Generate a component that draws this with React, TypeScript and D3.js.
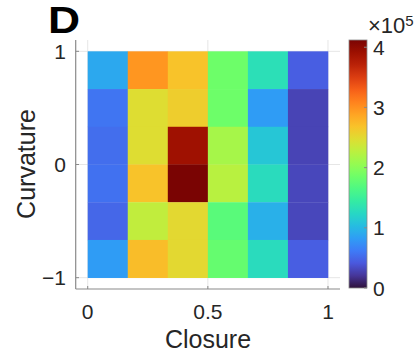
import React from "react";
import * as d3 from "d3";

// Closure (x, columns) and Curvature (y, rows) bins; values in units of 1e5
const closureTicks = [0, 0.5, 1];
const curvatureTicks = [-1, 0, 1];
const colorbarTicks = [0, 1, 2, 3, 4];
const nClosureBins = 6;
const nCurvatureBins = 6;
// rows from top (curvature = 1) to bottom (curvature = -1)
const values: number[][] = [
  [0.9, 2.97, 2.68, 1.85, 1.32, 0.45],
  [0.58, 2.47, 2.6, 1.85, 0.82, 0.29],
  [0.54, 2.47, 3.9, 2.15, 1.11, 0.29],
  [0.56, 2.68, 4.12, 2.25, 1.28, 0.31],
  [0.5, 2.3, 2.51, 1.72, 0.95, 0.31],
  [0.82, 2.72, 2.51, 1.8, 1.28, 0.45],
];
const colorMax = 4.12;

// turbo colormap with MATLAB-like end points
const turboStops: string[] = d3.range(0, 21).map((i) => {
  if (i === 0) return "#30123b";
  if (i === 20) return "#7a0403";
  return d3.interpolateTurbo(i / 20);
});
const turbo = d3.piecewise(d3.interpolateRgb, turboStops);

const W = 419;
const H = 360;
const FONT = "'Liberation Sans', Arial, Helvetica, sans-serif";
const TEXT = "#262626";

export default function App() {
  const x = d3.scaleLinear().domain([-0.05, 1.05]).range([75.7, 340]);
  const y = d3.scaleLinear().domain([-1.1, 1.1]).range([289, 40]);
  const color = d3.scaleSequential(turbo).domain([0, colorMax]);
  const cb = d3.scaleLinear().domain([0, colorMax]).range([288, 40]);
  const cbX0 = 349;
  const cbX1 = 367;

  const cells: React.ReactNode[] = [];
  values.forEach((row, r) => {
    row.forEach((v, c) => {
      const x0 = x(c / nClosureBins);
      const x1 = x((c + 1) / nClosureBins);
      const yTop = 1 - (2 * r) / nCurvatureBins;
      const yBot = 1 - (2 * (r + 1)) / nCurvatureBins;
      cells.push(
        <rect
          key={`c${r}-${c}`}
          x={x0}
          y={y(yTop)}
          width={x1 - x0 + 0.3}
          height={y(yBot) - y(yTop) + 0.3}
          fill={color(v)}
        />
      );
    });
  });

  const gradStops = d3.range(0, 41).map((i) => i / 40);

  return (
    <svg
      width={W}
      height={H}
      style={{ position: "absolute", left: 0, top: 0, background: "#fff" }}
      fontFamily={FONT}
    >
      <defs>
        <linearGradient id="cbgrad" x1="0" y1="1" x2="0" y2="0">
          {gradStops.map((t) => (
            <stop key={t} offset={`${t * 100}%`} stopColor={turbo(t)} />
          ))}
        </linearGradient>
      </defs>
      {/* panel letter */}
      <text
        transform="translate(48,33) scale(1.2,1)"
        fontSize={37}
        fontWeight="bold"
        fill="#000"
      >
        D
      </text>

      {/* grid */}
      {closureTicks.map((t) => (
        <line key={`gx${t}`} x1={x(t)} x2={x(t)} y1={40} y2={289} stroke="#e6e6e6" strokeWidth={1} />
      ))}
      {curvatureTicks.map((t) => (
        <line key={`gy${t}`} x1={75.7} x2={340} y1={y(t)} y2={y(t)} stroke="#e6e6e6" strokeWidth={1} />
      ))}

      {/* heatmap */}
      {cells}

      {/* axes */}
      <line x1={75.7} x2={75.7} y1={40} y2={289} stroke="#8a8a8a" strokeWidth={1.2} />
      <line x1={75.7} x2={340} y1={289} y2={289} stroke="#8a8a8a" strokeWidth={1.2} />
      {curvatureTicks.map((t) => (
        <g key={`ty${t}`}>
          <line x1={75.7} x2={79} y1={y(t)} y2={y(t)} stroke="#8a8a8a" />
          <text
            x={66}
            y={y(t)}
            dy="0.36em"
            textAnchor="end"
            fontSize={21}
            fill={TEXT}
          >
            {t < 0 ? `\u2212${Math.abs(t)}` : `${t}`}
          </text>
        </g>
      ))}
      {closureTicks.map((t) => (
        <g key={`tx${t}`}>
          <line x1={x(t)} x2={x(t)} y1={289} y2={286} stroke="#8a8a8a" />
          <text x={x(t)} y={319} textAnchor="middle" fontSize={21} fill={TEXT}>
            {`${t}`}
          </text>
        </g>
      ))}
      <text x={208} y={348} textAnchor="middle" fontSize={25} fill={TEXT}>
        Closure
      </text>
      <text
        transform={`translate(35,164) rotate(-90)`}
        textAnchor="middle"
        fontSize={25}
        fill={TEXT}
      >
        Curvature
      </text>

      {/* colorbar */}
      <rect x={cbX0} y={40} width={cbX1 - cbX0} height={248} fill="url(#cbgrad)" stroke="#8a8a8a" strokeWidth={0.8} />
      {colorbarTicks.map((t) => (
        <g key={`cb${t}`}>
          <line x1={cbX1 - 3} x2={cbX1} y1={cb(t)} y2={cb(t)} stroke="#8a8a8a" />
          <text x={373} y={cb(t)} dy="0.36em" fontSize={21} fill={TEXT}>
            {`${t}`}
          </text>
        </g>
      ))}
      <text x={368} y={33} fontSize={22} fill={TEXT}>
        <tspan>{"\u00d7"}</tspan>
        <tspan>10</tspan>
        <tspan fontSize={15} dy={-7}>5</tspan>
      </text>
    </svg>
  );
}
